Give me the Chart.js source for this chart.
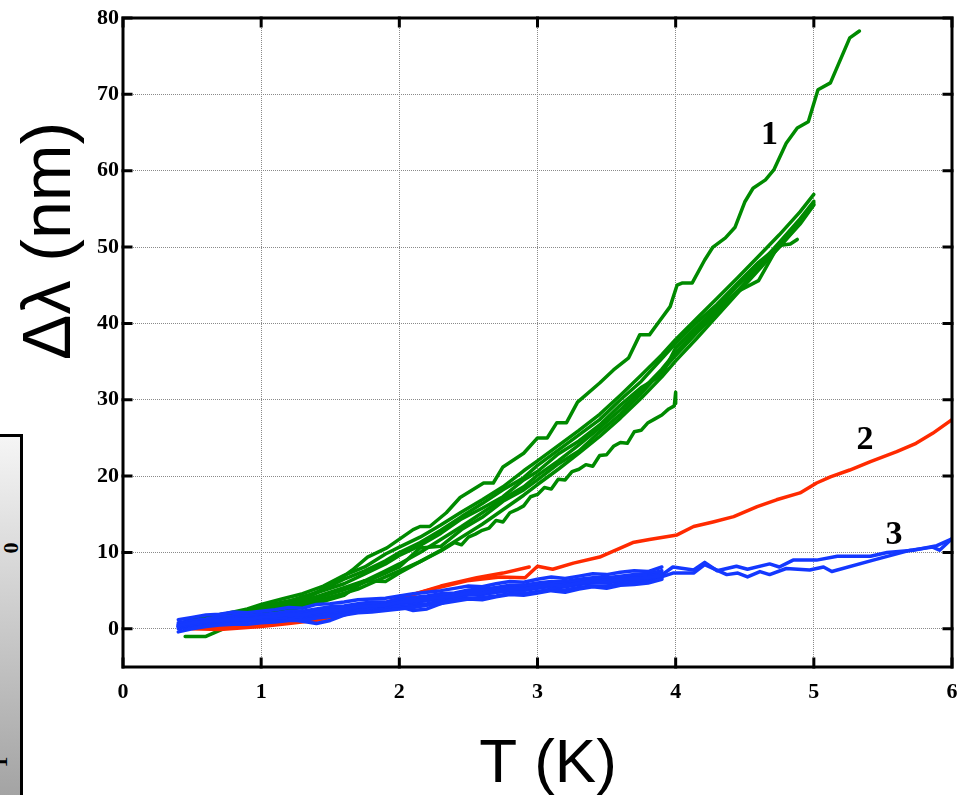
<!DOCTYPE html>
<html>
<head>
<meta charset="utf-8">
<script src="https://cdn.jsdelivr.net/npm/chart.js@4.4.1/dist/chart.umd.min.js"></script>
<style>
  html, body { margin: 0; padding: 0; background: #fff; }
  #wrap { position: relative; width: 964px; height: 795px; overflow: hidden; }
  #bar { position: absolute; left: -6px; top: 434px; width: 26px; height: 400px;
         border-top: 3px solid #000; border-right: 3px solid #000;
         background: linear-gradient(#f5f5f5, #9a9a9a); }
  .bl { position: absolute; font: bold 22px "Liberation Serif", serif; color: #000;
        transform: rotate(-90deg); transform-origin: center center; line-height: 22px; }
  canvas { position: absolute; left: 0; top: 0; }
</style>
</head>
<body>
<div id="wrap">
  <div id="bar"></div>
  <div class="bl" style="left:5px; top:537px;">0</div>
  <div class="bl" style="left:-6px; top:751px;">1</div>
  <canvas id="c" width="964" height="795"></canvas>
</div>
<script>
// Axis ticks
const xTickValues = [0, 1, 2, 3, 4, 5, 6];
const yTickValues = [0, 10, 20, 30, 40, 50, 60, 70, 80];

// Sample 1 (green): upper run
const tG1 = [0.45,0.6,0.8,1.0,1.2,1.3,1.5,1.66,1.77,1.91,2.1,2.15,2.22,2.34,2.44,2.61,2.68,2.75,2.9,3.0,3.07,3.14,3.21,3.29,3.45,3.55,3.66,3.74,3.81,3.87,3.96,4.01,4.05,4.12,4.21,4.27,4.36,4.43,4.5,4.56,4.65,4.71,4.8,4.88,4.96,5.03,5.12,5.26,5.33];
const dG1 = [0.8,1.2,2.0,2.7,3.3,3.8,5.6,7.7,9.4,10.6,13.0,13.4,13.4,15.2,17.2,19.1,19.1,21.2,23.0,25.0,25.0,27.0,27.0,29.7,32.2,33.9,35.5,38.5,38.5,40.0,42.2,45.0,45.3,45.3,48.3,50.0,51.2,52.6,55.9,57.7,58.8,60.1,63.6,65.6,66.4,70.6,71.5,77.4,78.3];

// Sample 1 (green): bundle of repeated runs
const tGB = [0.45,0.6,0.75,0.9,1.0,1.15,1.3,1.45,1.6,1.75,1.9,2.0,2.15,2.3,2.45,2.6,2.75,2.9,3.0,3.15,3.3,3.45,3.6,3.75,3.9,4.0,4.15,4.3,4.45,4.6,4.75,4.9,5.0];
const dGB1 = [1.0,1.6,2.0,2.6,3.2,3.9,4.6,5.6,7.0,8.1,9.8,10.7,12.0,13.6,15.3,16.9,18.6,20.7,22.0,24.0,26.0,28.1,30.6,33.2,35.9,37.9,40.6,43.3,46.0,48.8,51.6,54.6,56.9];
const dGB2 = [0.4,1.0,1.5,2.2,2.6,3.3,4.2,5.0,5.9,7.2,8.5,9.6,10.9,12.5,14.4,15.8,17.3,19.5,20.6,22.9,24.6,26.7,29.3,31.6,33.2,36.8,39.5,42.1,45.0,47.6,50.6,53.7,56.0];
const dGB3 = [-1.0,-1.0,0.2,1.0,1.5,2.2,2.9,3.6,4.4,6.3,6.2,7.3,8.8,10.3,12.0,13.7,15.6,17.5,18.9,20.9,23.0,25.2,27.6,30.2,33.0,35.1,38.0,41.0,44.0,47.0,50.0,53.2,55.6];
const dGB5 = [0.0,0.5,1.1,1.8,2.1,2.8,3.6,4.5,5.4,6.3,7.6,8.5,10.0,11.7,13.4,15.2,17.0,18.6,20.1,22.0,24.1,26.3,28.7,31.2,34.0,36.2,39.0,41.9,44.2,45.6,50.4,53.4,55.8];
const dGB6 = [0.6,1.1,1.5,1.9,2.4,3.0,3.3,4.3,5.1,6.1,7.3,8.1,10.6,10.8,13.0,14.6,16.7,18.2,19.5,21.6,23.3,25.8,28.1,30.8,33.8,35.8,38.7,41.5,44.3,47.3,50.0,53.0,55.5];
const tGB4 = [0.45,0.6,0.75,0.9,1.0,1.15,1.3,1.45,1.6,1.75,1.9,2.0,2.15,2.3,2.45,2.6,2.75,2.9,3.0,3.15,3.3,3.45,3.6,3.75,3.9,4.0,4.15,4.3,4.45,4.6,4.75,4.83,4.88];
const dGB4 = [0.8,1.3,1.7,2.3,2.9,3.5,4.0,5.2,6.5,7.6,8.9,10.0,11.3,12.9,14.7,16.4,18.2,19.8,21.4,23.4,25.4,27.4,30.0,32.4,35.4,37.4,40.1,42.5,45.3,48.0,50.2,50.4,51.0];

// Sample 1 (green): noisy run stopping at 4 K
const tGN = [0.5,0.65,0.8,0.95,1.1,1.25,1.4,1.55,1.7,1.85,2.0,2.15,2.3,2.4,2.45,2.5,2.55,2.6,2.65,2.7,2.75,2.8,2.85,2.9,2.95,3.0,3.05,3.1,3.15,3.2,3.25,3.3,3.35,3.4,3.45,3.5,3.55,3.6,3.65,3.7,3.75,3.8,3.85,3.9,3.95,3.99,4.0,4.0];
const dGN = [0.4,0.6,1.2,1.6,2.2,3.0,3.7,4.4,5.2,6.4,7.6,8.8,10.2,11.3,11.0,12.0,12.4,12.9,13.2,14.2,14.0,15.2,15.6,16.1,17.3,17.6,18.5,18.3,19.6,19.5,20.6,20.9,21.5,21.3,22.7,22.8,23.9,24.4,24.3,25.8,26.0,27.0,27.5,28.0,28.8,29.2,31.0,29.5];

// Sample 2 (red)
const tR1 = [0.5,0.7,0.85,1.0,1.2,1.43,1.66,1.85,2.0,2.24,2.49,2.73,2.91,3.0,3.11,3.26,3.45,3.69,3.81,4.01,4.13,4.27,4.42,4.59,4.73,4.9,5.02,5.12,5.26,5.41,5.6,5.74,5.86,6.0];
const dR1 = [0.0,-0.1,0.1,0.3,0.7,1.2,2.1,3.1,4.0,5.2,6.3,6.8,6.7,8.2,7.8,8.6,9.4,11.3,11.7,12.3,13.4,14.0,14.7,16.0,16.9,17.8,19.1,19.9,20.8,21.9,23.2,24.3,25.6,27.4];
const tR2 = [0.55,0.8,1.0,1.3,1.6,1.9,2.1,2.3,2.56,2.75,2.94];
const dR2 = [0.2,0.3,0.6,1.2,2.2,3.4,4.5,5.6,6.7,7.3,8.1];

// Sample 3 (blue): runs up to 3.9 K
const tB = [0.4,0.5,0.6,0.7,0.8,0.9,1.0,1.1,1.2,1.3,1.4,1.5,1.6,1.7,1.8,1.9,2.0,2.1,2.2,2.3,2.4,2.5,2.6,2.7,2.8,2.9,3.0,3.1,3.2,3.3,3.4,3.5,3.6,3.7,3.8,3.9];
const dB0 = [0.4,0.8,1.0,1.1,1.3,1.2,1.5,1.6,1.9,1.8,2.2,2.4,2.5,2.9,3.0,3.1,3.5,3.6,3.9,4.1,4.3,4.7,4.7,5.0,5.3,5.2,5.5,5.8,5.6,6.0,6.3,6.1,6.5,6.6,6.7,7.0];
const dB1 = [1.2,1.5,1.8,1.9,2.2,2.1,2.3,2.5,2.8,2.7,3.2,3.3,3.5,3.8,3.9,4.0,4.3,4.6,4.8,5.0,5.3,5.6,5.5,5.9,6.2,6.1,6.5,6.8,6.6,6.9,7.2,7.1,7.4,7.6,7.5,8.1];
const dB2 = [-0.4,0.0,0.3,0.5,0.6,0.6,0.8,0.9,1.1,1.1,1.4,1.6,1.8,2.1,2.2,2.4,2.6,2.8,3.1,3.3,3.6,3.9,3.8,4.2,4.5,4.4,4.7,5.0,4.8,5.2,5.5,5.3,5.7,5.8,6.0,6.5];
const dB3 = [0.3,0.6,0.9,1.2,1.4,1.3,1.6,1.5,1.3,1.0,0.7,1.1,1.8,2.4,2.8,3.2,2.9,2.4,2.6,3.3,4.0,4.5,4.6,4.9,5.1,5.3,5.4,5.6,5.8,5.9,6.2,6.4,6.3,6.8,6.9,7.1];
const dB4 = [0.6,1.0,1.2,1.3,1.5,1.4,1.7,1.8,2.1,2.0,2.4,2.6,2.8,3.1,3.3,3.4,3.7,3.9,4.1,4.4,4.6,4.9,5.0,5.2,5.5,5.5,5.8,6.0,5.9,6.3,6.5,6.4,6.8,6.9,6.9,7.3];
const dB5 = [0.2,0.6,0.8,1.0,1.2,1.3,1.4,1.5,1.7,1.7,2.0,2.2,2.4,2.6,2.9,3.0,3.3,3.4,3.7,3.9,4.2,4.5,4.5,4.8,5.0,5.0,5.3,5.6,5.5,5.8,6.1,6.0,6.3,6.4,6.6,6.9];
const dB6 = [0.8,1.1,1.3,1.6,1.7,1.7,1.9,2.0,2.3,2.3,2.6,2.9,3.0,3.3,3.5,3.5,3.9,4.1,4.3,4.6,4.7,5.1,5.2,5.4,5.7,5.7,6.0,6.2,6.2,6.5,6.7,6.7,6.9,7.1,7.2,7.6];
const dB7 = [0.0,0.3,0.7,0.8,0.9,1.0,1.1,1.2,1.5,1.4,1.7,1.9,2.0,2.4,2.5,2.7,2.9,3.1,3.3,3.6,3.8,4.0,4.1,4.3,4.6,4.6,4.9,5.2,5.1,5.4,5.6,5.6,5.9,6.1,6.2,6.6];

// Sample 3 (blue): two runs up to 6 K
const tBA = [0.4,0.6,0.8,1.0,1.2,1.4,1.6,1.8,2.0,2.2,2.4,2.6,2.8,3.0,3.2,3.4,3.6,3.75,3.88,3.98,4.13,4.21,4.3,4.44,4.52,4.68,4.75,4.85,5.02,5.17,5.41,5.53,5.72,5.89,6.0];
const dBA = [0.5,1.0,1.3,1.6,1.9,2.2,2.6,3.1,3.6,4.0,4.5,4.8,5.2,5.7,5.9,6.3,6.6,6.6,6.8,8.1,7.7,8.7,7.6,8.2,7.8,8.5,8.1,9.0,9.0,9.5,9.5,10.0,10.3,10.9,11.8];
const tBB = [0.4,0.6,0.8,1.0,1.2,1.4,1.6,1.8,2.0,2.2,2.4,2.6,2.8,3.0,3.2,3.4,3.6,3.75,3.88,3.98,4.13,4.21,4.37,4.45,4.52,4.61,4.68,4.8,4.97,5.07,5.13,5.43,5.7,5.86,5.91,6.0];
const dBB = [0.3,0.8,1.1,1.4,1.7,2.0,2.4,2.9,3.3,3.8,4.3,4.6,5.0,5.4,5.7,6.0,6.3,6.4,6.7,7.3,7.3,8.4,7.1,7.3,6.8,7.5,7.1,7.9,7.7,8.1,7.5,9.0,10.3,10.7,10.3,11.8];

// Curve labels
const curveLabels = [
  { text: '1', t: 4.68, d: 64.7 },
  { text: '2', t: 5.37, d: 24.7 },
  { text: '3', t: 5.58, d: 12.2 }
];

const GREEN = '#008a00', RED = '#ff2a00', BLUE = '#1438ff';

function pts(ts, ds) { return ts.map((t, i) => ({ x: t, y: ds[i] })); }
function run(ts, ds, color, order) {
  return { data: pts(ts, ds), borderColor: color, borderWidth: 3.5, pointRadius: 0,
           fill: false, tension: 0, borderJoinStyle: 'round', borderCapStyle: 'round', order };
}

const datasets = [
  run(tB, dB0, BLUE, 0), run(tB, dB1, BLUE, 0), run(tB, dB2, BLUE, 0),
  run(tB, dB3, BLUE, 0), run(tB, dB4, BLUE, 0), run(tB, dB5, BLUE, 0),
  run(tB, dB6, BLUE, 0), run(tB, dB7, BLUE, 0),
  run(tBA, dBA, BLUE, 0), run(tBB, dBB, BLUE, 0),
  run(tR1, dR1, RED, 1), run(tR2, dR2, RED, 1),
  run(tG1, dG1, GREEN, 2), run(tGB, dGB1, GREEN, 2), run(tGB, dGB2, GREEN, 2),
  run(tGB, dGB3, GREEN, 2), run(tGB4, dGB4, GREEN, 2), run(tGB, dGB5, GREEN, 2),
  run(tGB, dGB6, GREEN, 2), run(tGN, dGN, GREEN, 2)
];

// Box frame, inward ticks, axis titles and curve numbers
const decor = {
  id: 'decor',
  afterDatasetsDraw(chart) {
    const { ctx, chartArea: a, scales: { x, y } } = chart;
    ctx.save();
    ctx.strokeStyle = '#000';
    ctx.lineWidth = 3;
    ctx.lineCap = 'square';
    ctx.strokeRect(a.left, a.top, a.right - a.left, a.bottom - a.top);
    ctx.beginPath();
    xTickValues.forEach(v => {
      const px = x.getPixelForValue(v);
      ctx.moveTo(px, a.bottom); ctx.lineTo(px, a.bottom - 8);
      ctx.moveTo(px, a.top); ctx.lineTo(px, a.top + 8);
    });
    yTickValues.forEach(v => {
      const py = y.getPixelForValue(v);
      ctx.moveTo(a.left, py); ctx.lineTo(a.left + 8, py);
      ctx.moveTo(a.right, py); ctx.lineTo(a.right - 8, py);
    });
    ctx.stroke();

    ctx.fillStyle = '#000';
    ctx.font = 'bold 34px "Liberation Serif", serif';
    ctx.textAlign = 'center';
    ctx.textBaseline = 'middle';
    curveLabels.forEach(l => ctx.fillText(l.text, x.getPixelForValue(l.t), y.getPixelForValue(l.d)));

    ctx.font = '62px "Liberation Sans", Arial, sans-serif';
    ctx.textBaseline = 'alphabetic';
    ctx.fillText('T (K)', 548, 782);
    ctx.font = '68px "Liberation Sans", Arial, sans-serif';
    ctx.translate(70, 241);
    ctx.rotate(-Math.PI / 2);
    ctx.fillText('Δλ (nm)', 0, 0);
    ctx.restore();
  }
};

const tickFont = { family: '"Liberation Serif", "Times New Roman", serif', weight: 'bold', size: 22 };

new Chart(document.getElementById('c'), {
  type: 'line',
  data: { datasets },
  options: {
    responsive: false,
    animation: false,
    events: [],
    layout: { padding: { left: 0, top: 18, right: 12, bottom: 0 } },
    plugins: { legend: { display: false }, tooltip: { enabled: false }, title: { display: false } },
    scales: {
      x: {
        type: 'linear', min: 0, max: 6,
        afterBuildTicks: s => { s.ticks = xTickValues.map(v => ({ value: v })); },
        afterFit: s => { s.height = 128; s.paddingLeft = 0; s.paddingRight = 0; },
        grid: { color: '#8a8a8a', lineWidth: 1, drawTicks: false },
        border: { display: false, dash: [1, 1] },
        ticks: { font: tickFont, color: '#000', padding: 12, maxRotation: 0 }
      },
      y: {
        type: 'linear', min: -5, max: 80,
        afterBuildTicks: s => { s.ticks = yTickValues.map(v => ({ value: v })); },
        afterFit: s => { s.width = 123; s.paddingTop = 0; s.paddingBottom = 0; },
        grid: { color: '#8a8a8a', lineWidth: 1, drawTicks: false },
        border: { display: false, dash: [1, 1] },
        ticks: { font: tickFont, color: '#000', padding: 4 }
      }
    }
  },
  plugins: [decor]
});
</script>
</body>
</html>
